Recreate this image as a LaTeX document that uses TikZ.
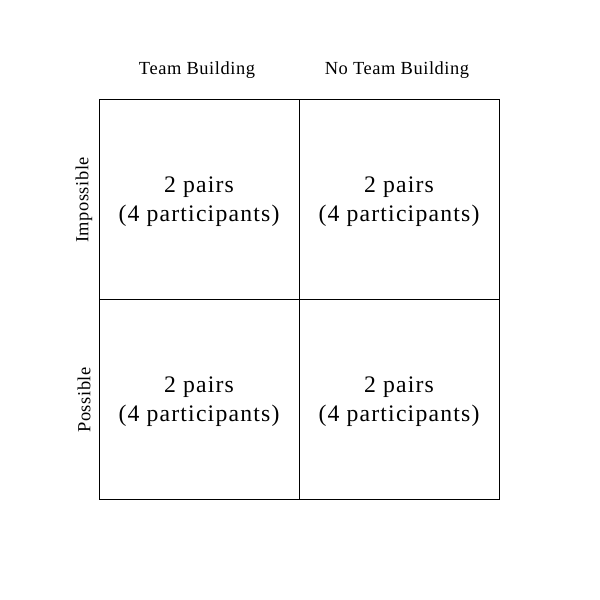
\documentclass[tikz,border=0pt]{standalone}
\usepackage{fontspec}
\setmainfont{Liberation Serif}
\newfontfamily\cellfont[LetterSpace=5]{Liberation Serif}
\newfontfamily\headfont[LetterSpace=3]{Liberation Serif}
\usepackage{tikz}
\usetikzlibrary{positioning}

\begin{document}
\begin{tikzpicture}[
	cell/.style={draw, line width=0.45pt, minimum size=4cm, inner sep=0pt, outer sep=0pt},
	celltext/.style={align=center, font=\cellfont\fontsize{13.5}{16.5}\selectfont},
	head/.style={font=\headfont\fontsize{10.5}{12}\selectfont},
	side/.style={font=\headfont\fontsize{10.5}{12}\selectfont, rotate=90}]
		\useasboundingbox (0,0) rectangle (12,12);
		
		\node[cell] (tb-imp) at (3.98,8.02) {};
		\node[cell] (ntb-imp) at (7.98,8.02) {};
		\node[cell] (tb-pos) at (3.98,4.02) {};
		\node[cell] (ntb-pos) at (7.98,4.02) {};
		% cell texts
		\foreach \c in {tb-imp, ntb-imp, tb-pos, ntb-pos}
			\node[celltext] (\c-txt) at ([yshift=-0.06cm]\c.center) {2 pairs\\(4 participants)};
		
		\node[head] (tb) at (3.94,10.6) {Team Building};
		\node[head] (ntb) at (7.94,10.6) {No Team Building};
		\node[side] (imp) at (1.68,8) {Impossible};
		\node[side] (pos) at (1.68,4) {Possible};
\end{tikzpicture}
\end{document}
